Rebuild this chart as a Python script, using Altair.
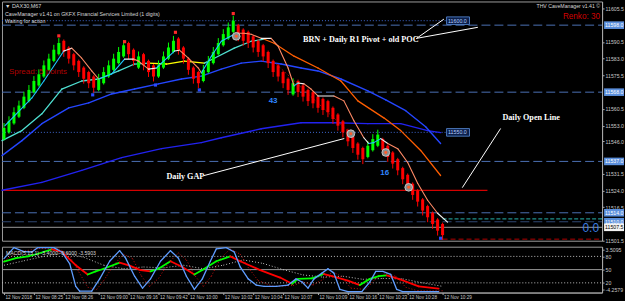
import json
import altair as alt
import numpy as np
import pandas as pd

W, H_MAIN, H_OSC = 602, 240, 46
X_DOM = [-0.4, 120.0]
Y_DOM = [11501.5, 11608.6]
O_DOM = [-2, 102]

# ---------------- data ----------------
bar_close = [11552, 11555, 11559, 11562, 11566, 11569, 11573, 11576, 11580, 11583, 11587, 11590,
             11586, 11583, 11580, 11577, 11574, 11572, 11570,
             11574, 11577, 11580, 11583, 11586, 11589,
             11585, 11582, 11584, 11580, 11577, 11575,
             11580, 11584, 11588, 11591,
             11587, 11583, 11578, 11574, 11572,
             11578, 11582, 11586, 11590, 11594, 11597, 11600,
             11593, 11591, 11590, 11588, 11586, 11584, 11581, 11577, 11575, 11572, 11569,
             11572,
             11568, 11566, 11564, 11563, 11561, 11560, 11559, 11556, 11553, 11550, 11546, 11543, 11540, 11538,
             11544, 11547, 11549,
             11542, 11539, 11536, 11533, 11529, 11526, 11522, 11519, 11515, 11512, 11509, 11506, 11504]

fast_x = [0.2, 5.6, 8, 12, 13.6, 15.6, 17.6, 19, 21.6, 24.2, 26, 27, 29, 30.6, 31.6, 34.2, 35.2, 37, 39,
          39.6, 41.6, 43.6, 46.2, 47, 48.2, 49.6, 51.6, 53.6, 55, 57, 58.2, 59, 60.2, 61.6, 63, 66.2,
          68.2, 70.2, 72.2, 73.2, 74.2, 75.6, 77, 79, 81, 83, 85, 87, 89]
fast_y = [11553.0, 11565.4, 11573.0, 11586.4, 11587.7, 11583.2, 11577.5, 11573.9, 11576.1, 11582.8,
          11582.8, 11581.9, 11578.3, 11578.8, 11581.0, 11586.4, 11586.8, 11583.2, 11578.8, 11576.6,
          11584.1, 11590.8, 11593.9, 11594.4, 11594.4, 11593.9, 11592.1, 11592.1, 11588.6, 11578.8,
          11570.8, 11572.1, 11571.7, 11569.4, 11566.3, 11566.3, 11564.1, 11555.2, 11547.6, 11545.0,
          11545.4, 11547.2, 11545.0, 11542.7, 11536.5, 11527.2, 11519.6, 11513.8, 11509.8]
fast_c = ['c', 'c', 'c', 'w', 's', 's', 's', 'c', 'c', 'w', 's', 's', 'w', 'c', 'c', 'w', 's', 's', 's',
          'c', 'c', 'c', 'w', 's', 's', 's', 'w', 's', 's', 's', 'c', 'w', 's', 's', 'w', 's', 's', 's',
          'w', 'c', 'c', 'w', 's', 's', 's', 's', 's', 'w']

mid_x = [-0.4, 3.6, 7.6, 11.6, 15.6, 19, 23, 26.2, 29, 32.6, 36.2, 40.2, 42.2, 46.2, 49.6, 52.2, 54.2,
         58.2, 63, 67.6, 71, 76.2, 79.6, 83.6, 87.6]
mid_y = [11546.3, 11550.8, 11558.3, 11569.4, 11573.0, 11573.9, 11577.5, 11580.6, 11581.0, 11580.6,
         11581.9, 11581.0, 11583.2, 11587.7, 11590.8, 11591.7, 11589.9, 11584.1, 11578.8, 11573.0,
         11564.1, 11556.5, 11550.8, 11541.9, 11530.7]
mid_c = ['t', 't', 't', 't', 't', 't', 't', 't', 'y', 'y', 'y', 't', 't', 't', 't',
         'o', 'o', 'o', 'o', 'o', 'o', 'o', 'o', 'o']

b1_x = [-0.4, 3.6, 7.6, 13, 17, 21.6, 26.2, 31, 35.6, 39.6, 43.6, 47.6, 51.6, 55.6, 59.6, 63, 67.6,
        73, 76.6, 80.6, 84.6, 87.6]
b1_y = [11539.6, 11546.3, 11553.9, 11561.0, 11563.2, 11567.2, 11569.4, 11571.7, 11573.9, 11575.2,
        11578.3, 11581.0, 11581.9, 11580.6, 11578.8, 11577.5, 11573.9, 11568.6, 11564.5, 11559.7,
        11552.5, 11545.0]

b2_x = [-0.4, 7.6, 15.6, 23.6, 31.6, 39.6, 43.6, 51.6, 59.6, 66.2, 73, 79.6, 85, 87.6]
b2_y = [11524.1, 11527.6, 11533.0, 11538.7, 11542.7, 11545.4, 11547.6, 11551.6, 11554.3, 11554.3,
        11553.9, 11553.9, 11550.8, 11549.9]

top_dot_x = [11, 24.2, 34.4, 46]
top_dot_y = [11593.2, 11590.6, 11594.8, 11603.2]
low_dot_x = [17.8, 30.4, 39.2, 87.6]
low_dot_y = [11566.8, 11571.2, 11569.0, 11502.6]

signal_x = [46.6, 69.6, 76.6, 81.2]
signal_y = [11593.0, 11549.4, 11541.0, 11525.4]

dash_levels = [11598.0, 11568.0, 11537.0, 11514.0]
dark_dash_level = 11510.0
dotted_levels = [11600.0, 11550.0]
dotted_labels = ["11600.0", "11550.0"]
daily_open = 11524.0
grey_level = 11507.5

price_ticks = [11605.5, 11590.5, 11583.0, 11575.5, 11560.5, 11553.0, 11546.0, 11531.5, 11524.0,
               11516.5, 11501.5]
hl_prices = [11598.0, 11568.0, 11537.0, 11514.0, 11510.0, 11507.5]
hl_labels = ["11598.0", "11568.0", "11537.0", "11514.0", "11510.0", "11507.5"]

osc_blue_x = [0, 2, 4, 5.6, 6.8, 10, 11.6, 13.2, 14.4, 15.2, 17.6, 19.2, 21.2, 23.2, 24.4, 26.2, 27.8,
              29.4, 31.4, 33.4, 35, 36.6, 38.2, 39.8, 41.4, 42.6, 44.6, 46.2, 47.4, 49, 50.6, 52.2,
              54.6, 57, 58.6, 59.8, 61, 62.2, 63.8, 65, 66.2, 67.4, 69, 71.8, 73.4, 74.6, 76, 77.6,
              78.8, 80, 87.2]
osc_blue_v = [75, 100, 91, 90, 100, 100, 90, 63, 12, 1, 1, 29, 69, 93, 76, 35, 8, 29, 69, 93, 76, 35,
              5, 29, 69, 97, 100, 90, 56, 29, 15, 12, 12, 15, 29, 22, 8, 29, 42, 52, 42, 5, 0, 0, 22,
              46, 46, 39, 5, 0, 0]
gr_x = [0, 2.4, 4.8, 6.8, 9.6, 11.6, 14.4, 16.8, 18.4, 20, 23.2, 25.2, 27.4, 29.4, 31, 33.4, 35.8,
        38.2, 39.8, 42.6, 45.4, 47.4, 51.4, 55.4, 57.8, 59, 61.8, 64.2, 65.8, 69, 71.4, 73.4, 75.2,
        76.8, 79.2, 83.2, 87.2]
gr_v = [68, 76, 80, 86, 96, 90, 60, 39, 46, 52, 66, 59, 49, 46, 52, 69, 56, 39, 49, 69, 80, 69, 49,
        32, 18, 29, 30, 40, 35, 25, 15, 29, 35, 37, 29, 12, 7]
sig_x = [0, 4, 8, 12, 16, 20, 24, 28, 32, 36, 40, 44, 48, 52, 56, 60, 64, 68, 72, 76, 80, 84, 88]
sig_v = [60, 70, 80, 88, 78, 60, 52, 56, 54, 60, 52, 60, 72, 64, 50, 38, 33, 35, 28, 30, 29, 20, 12]
dr_x = [0, 3, 7, 11, 13, 15, 16.8, 18.6, 20, 22, 24, 25.8, 27.6, 29.2, 31, 33, 35, 36.6, 38.4, 40,
        41.6, 43.4, 45.4, 47.4, 49, 51, 54, 58, 60, 62, 64, 66, 67.6, 69.6, 72.6, 74.6, 76.6, 78.6,
        80.6, 83, 88]
dr_v = [70, 90, 98, 97, 85, 45, 10, 5, 25, 60, 85, 75, 35, 12, 30, 65, 88, 72, 35, 12, 35, 75, 97,
        85, 55, 25, 12, 14, 22, 15, 28, 45, 35, 8, 5, 30, 42, 35, 10, 2, 2]

osc_levels = [80, 20]
osc_mid = 50
osc_ticks = [96, 80, 50, 20, 4]

time_ticks = [0, 6, 12, 19, 25, 31, 37, 44, 50, 56, 63, 69, 75, 81, 88]
time_labels = ["12 Nov 2018", "12 Nov 08:25", "12 Nov 08:26", "12 Nov 09:00", "12 Nov 09:16",
               "12 Nov 09:42", "12 Nov 10:00", "12 Nov 10:02", "12 Nov 10:04", "12 Nov 10:07",
               "12 Nov 10:09", "12 Nov 10:16", "12 Nov 10:23", "12 Nov 10:28", "12 Nov 10:29"]

# ---------------- styles ----------------
BODY = 5.0
GREEN, RED = "#00ff00", "#ff0000"
PAL = {'c': '#1ec8ff', 's': '#ff8a66', 'w': '#f2f2f2', 't': '#4fe0d2', 'y': '#ffff00', 'o': '#ff5e00'}
DASH_COL = "#4b70b4"
FONT = "Liberation Sans"
SERIF = "Liberation Serif"
AX_COL = "#a8a8a8"

xs = alt.Scale(domain=X_DOM, nice=False, zero=False)
ys = alt.Scale(domain=Y_DOM, nice=False, zero=False)
os_ = alt.Scale(domain=O_DOM, nice=False, zero=False)

yaxis = alt.Axis(orient='right', values=price_ticks, format='.1f', title=None, grid=False,
                 labelFontSize=5.2, labelColor='#c8c8c8', labelFont=FONT, tickSize=2,
                 labelPadding=1, tickColor=AX_COL, domainColor=AX_COL, labelBaseline='middle')


def X(f):
    return alt.X(f, type='quantitative', scale=xs, axis=None)


def Y(f):
    return alt.Y(f, type='quantitative', scale=ys, axis=yaxis)


def segs(xv, yv, codes=None, color=None, up_down=False):
    rows = []
    for k in range(len(xv) - 1):
        if up_down:
            col = GREEN if yv[k + 1] > yv[k] else RED
        elif codes is not None:
            col = PAL[codes[k]]
        else:
            col = color
        rows.append(dict(x=xv[k], y=yv[k], x2=xv[k + 1], y2=yv[k + 1], col=col))
    return pd.DataFrame(rows)


def seg_layer(df, width=1.0, dash=None, yfun=Y):
    kw = dict(strokeWidth=width, strokeCap='round')
    if dash:
        kw['strokeDash'] = dash
        kw['strokeCap'] = 'butt'
    return alt.Chart(df).mark_rule(**kw).encode(
        x=X('x'), x2=alt.X2('x2'), y=yfun('y'), y2=alt.Y2('y2'),
        color=alt.Color('col:N', scale=None))


def px_text(txt, x, y, size=5.3, color='#d8d8d8', align='left', font=FONT, weight='normal'):
    return alt.Chart(pd.DataFrame({'t': [txt]})).mark_text(
        align=align, baseline='middle', fontSize=size, color=color, font=font, fontWeight=weight
    ).encode(x=alt.value(x), y=alt.value(y), text='t:N')


# ---------------- main panel ----------------
layers = []

layers.append(alt.Chart(pd.DataFrame({'y': dash_levels})).mark_rule(
    color=DASH_COL, strokeDash=[9, 4], strokeWidth=1).encode(x=alt.value(0), x2=alt.value(W), y=Y('y')))
layers.append(alt.Chart(pd.DataFrame({'y': [dark_dash_level]})).mark_rule(
    color="#2e4670", strokeDash=[9, 4], strokeWidth=1.2).encode(x=alt.value(0), x2=alt.value(W), y=Y('y')))
layers.append(alt.Chart(pd.DataFrame({'y': [grey_level]})).mark_rule(
    color="#9a9a9a", strokeWidth=1).encode(x=alt.value(0), x2=alt.value(W), y=Y('y')))
layers.append(alt.Chart(pd.DataFrame({'y': dotted_levels, 'x0': [-0.4, -0.4], 'x1': [88.8, 88.8]})).mark_rule(
    color="#3f68d0", strokeDash=[1, 2], strokeWidth=1).encode(x=X('x0'), x2=alt.X2('x1'), y=Y('y')))
layers.append(alt.Chart(pd.DataFrame({'y': [daily_open], 'x0': [-0.4], 'x1': [97.0]})).mark_rule(
    color="#d40000", strokeWidth=1.2).encode(x=X('x0'), x2=alt.X2('x1'), y=Y('y')))
layers.append(alt.Chart(pd.DataFrame({'y': [11511.3], 'x0': [88.0], 'x1': [X_DOM[1]]})).mark_rule(
    color="#1f8f8a", strokeDash=[4, 2], strokeWidth=1.2).encode(x=X('x0'), x2=alt.X2('x1'), y=Y('y')))
layers.append(alt.Chart(pd.DataFrame({'y': [11502.2], 'x0': [88.0], 'x1': [X_DOM[1]]})).mark_rule(
    color="#b00000", strokeDash=[5, 3], strokeWidth=1).encode(x=X('x0'), x2=alt.X2('x1'), y=Y('y')))

# moving averages
layers.append(seg_layer(segs(b2_x, b2_y, color="#2222f0"), width=1.4))
layers.append(seg_layer(segs(b1_x, b1_y, color="#2446ff"), width=1.4))
layers.append(seg_layer(segs(mid_x, mid_y, codes=mid_c), width=1.3))
# dotted trend
layers.append(seg_layer(pd.DataFrame([dict(x=54, y=11581.9, x2=70, y2=11548.5, col="#a00000")]),
                        width=1, dash=[2, 2]))

# candles
bars = pd.DataFrame({'i': np.arange(len(bar_close)), 'close': np.array(bar_close, dtype=float)})
prev = bars['close'].shift(1)
up = ((bars['close'] > prev) | prev.isna()).to_numpy()
bars['b0'] = np.where(up, bars['close'] - BODY, bars['close'])
bars['b1'] = np.where(up, bars['close'], bars['close'] + BODY)
bars['w0'] = np.where(up, bars['b0'] - 0.6, bars['b0'] - 2.2)
bars['w1'] = np.where(up, bars['b1'] + 2.2, bars['b1'] + 0.6)
bars['col'] = np.where(up, GREEN, RED)
layers.append(alt.Chart(bars).mark_rule(strokeWidth=1).encode(
    x=X('i'), y=Y('w0'), y2=alt.Y2('w1'), color=alt.Color('col:N', scale=None)))
layers.append(alt.Chart(bars).mark_rule(strokeWidth=3).encode(
    x=X('i'), y=Y('b0'), y2=alt.Y2('b1'), color=alt.Color('col:N', scale=None)))

# fast line on top
layers.append(seg_layer(segs(fast_x, fast_y, codes=fast_c), width=1.1))

# dots
layers.append(alt.Chart(pd.DataFrame({'x': top_dot_x, 'y': top_dot_y})).mark_square(
    size=10, color="#ff2a2a", opacity=1).encode(x=X('x'), y=Y('y')))
layers.append(alt.Chart(pd.DataFrame({'x': low_dot_x, 'y': low_dot_y})).mark_square(
    size=10, color="#2a4aff", opacity=1).encode(x=X('x'), y=Y('y')))
layers.append(alt.Chart(pd.DataFrame({'x': signal_x, 'y': signal_y})).mark_point(
    shape='circle', filled=True, size=60, fill="#8c8c8c", stroke="#d8d8d8", strokeWidth=0.8,
    opacity=1).encode(x=X('x'), y=Y('y')))
layers.append(alt.Chart(pd.DataFrame({'x': signal_x, 'y': signal_y})).mark_point(
    shape='circle', filled=True, size=9, color="#ff5a2a", opacity=1).encode(x=X('x'), y=Y('y')))

# leader lines
leaders = pd.DataFrame([
    dict(x=82.8, y=11592.1, x2=88.2, y2=11600.6, col='white'),
    dict(x=82.8, y=11592.1, x2=95.0, y2=11597.0, col='white'),
    dict(x=92.0, y=11525.4, x2=99.6, y2=11551.6, col='white'),
    dict(x=40.2, y=11530.7, x2=68.2, y2=11547.2, col='white'),
])
layers.append(seg_layer(leaders, width=1))

# annotations in data space
ann = pd.DataFrame({
    't': ["BRN + Daily R1 Pivot + old POC", "Daily Open Line", "Daily GAP"],
    'x': [60.0, 100.0, 32.6],
    'y': [11591.2, 11556.5, 11529.8]})
layers.append(alt.Chart(ann).mark_text(align='left', baseline='middle', font=SERIF, fontSize=8.2,
                                       fontWeight='bold', color='white').encode(
    x=X('x'), y=Y('y'), text='t:N'))
nums = pd.DataFrame({'t': ["43", "16"], 'x': [54.0, 76.4], 'y': [11564.1, 11531.6]})
layers.append(alt.Chart(nums).mark_text(align='center', baseline='middle', font=FONT, fontSize=8,
                                        fontWeight='bold', color='#2f86ff').encode(
    x=X('x'), y=Y('y'), text='t:N'))
spread = pd.DataFrame({'t': ["Spread: 5 points"], 'x': [1.0], 'y': [11577.0]})
layers.append(alt.Chart(spread).mark_text(align='left', baseline='middle', font=FONT, fontSize=8,
                                          color='#b00000').encode(x=X('x'), y=Y('y'), text='t:N'))

# dotted level label boxes
dlab = pd.DataFrame({'x0': [88.8, 88.8], 'x1': [93.4, 93.4], 'y': dotted_levels, 't': dotted_labels})
dlab['lo'] = dlab['y'] - 1.7
dlab['hi'] = dlab['y'] + 1.7
layers.append(alt.Chart(dlab).mark_rect(fill="#0b1f4a", stroke="#5b8fdc", strokeWidth=0.8).encode(
    x=X('x0'), x2=alt.X2('x1'), y=Y('lo'), y2=alt.Y2('hi')))
layers.append(alt.Chart(dlab).mark_text(align='left', baseline='middle', font=FONT, fontSize=5.3,
                                        color='#b8d0ff', dx=1.5).encode(x=X('x0'), y=Y('y'), text='t:N'))

# axis highlight boxes
hl = pd.DataFrame({'p': hl_prices, 'lab': hl_labels,
                   'fill': ["#5b8fdc"] * 5 + ["#f4f4f4"],
                   'tc': ["#ffffff"] * 5 + ["#000000"]})
hl['lo'] = hl['p'] - 1.7
hl['hi'] = hl['p'] + 1.7
layers.append(alt.Chart(hl).mark_rect().encode(
    x=alt.value(W + 2), x2=alt.value(W + 22), y=Y('lo'), y2=alt.Y2('hi'),
    color=alt.Color('fill:N', scale=None)))
layers.append(alt.Chart(hl).mark_text(align='left', baseline='middle', font=FONT, fontSize=5.2).encode(
    x=alt.value(W + 3), y=Y('p'), text='lab:N', color=alt.Color('tc:N', scale=None)))

# header texts
layers.append(px_text("\u25bc DAX30,M67", 3, 5, size=5.5))
layers.append(px_text("CaveManager v1.41 on GKFX Financial Services Limited (1 digits)", 3, 12.5, size=5.3))
layers.append(px_text("Waiting for action", 3, 19.5, size=5.3))
layers.append(px_text("THV CaveManager v1.41 \u00a9", 600, 5, size=5.2, align='right'))
layers.append(px_text("Renko: 30", 600, 16, size=8.2, align='right', color='#d20000'))
layers.append(px_text("0.0", 599, 227, size=12, align='right', color='#3a7de0'))

main = alt.layer(*layers).properties(width=W, height=H_MAIN)

# ---------------- oscillator panel ----------------
label_expr = "{}[indexof({}, datum.value)]".format(json.dumps(time_labels), json.dumps(time_ticks))
xaxis_t = alt.Axis(orient='bottom', values=time_ticks, labelExpr=label_expr, labelAlign='left',
                   labelBaseline='top', labelFlush=False, labelOverlap=False, tickSize=2,
                   labelPadding=0, labelFontSize=4.7, labelColor='#c8c8c8', labelFont=FONT,
                   tickColor=AX_COL, domainColor=AX_COL, title=None, grid=False, labelOffset=1)
oaxis = alt.Axis(orient='right', values=osc_ticks, title=None, grid=False,
                 labelExpr="datum.value == 96 ? '3.5095' : datum.value == 4 ? '-4.2579' : datum.label",
                 labelFontSize=5.2, labelColor='#c8c8c8', labelFont=FONT, tickSize=2, labelPadding=1,
                 tickColor=AX_COL, domainColor=AX_COL, labelBaseline='middle')


def XO(f):
    return alt.X(f, type='quantitative', scale=xs, axis=xaxis_t)


def YO(f):
    return alt.Y(f, type='quantitative', scale=os_, axis=oaxis)


def oseg(df, width=1.0, dash=None):
    kw = dict(strokeWidth=width, strokeCap='round')
    if dash:
        kw['strokeDash'] = dash
        kw['strokeCap'] = 'butt'
    return alt.Chart(df).mark_rule(**kw).encode(
        x=XO('x'), x2=alt.X2('x2'), y=YO('y'), y2=alt.Y2('y2'),
        color=alt.Color('col:N', scale=None))


olayers = []
olayers.append(alt.Chart(pd.DataFrame({'v': osc_levels})).mark_rule(
    color='#bdbdbd', strokeDash=[1, 2], strokeWidth=1).encode(x=alt.value(0), x2=alt.value(W), y=YO('v')))
olayers.append(alt.Chart(pd.DataFrame({'v': [osc_mid]})).mark_rule(
    color='#9a9a9a', strokeWidth=1).encode(x=alt.value(0), x2=alt.value(W), y=YO('v')))
olayers.append(oseg(segs(sig_x, sig_v, color='#bcbcbc'), width=1, dash=[1, 2]))
olayers.append(oseg(segs(dr_x, dr_v, color='#c01010'), width=1, dash=[1, 2]))
olayers.append(oseg(segs(gr_x, gr_v, up_down=True), width=1.8))
olayers.append(oseg(segs(osc_blue_x, osc_blue_v, color='#5f9dff'), width=1.3))
olayers.append(px_text("MACD(5,13,1)  -3.4000 -3.6000 -3.5903", 4, 6, size=5.2))

osc = alt.layer(*olayers).properties(width=W, height=H_OSC)

chart = alt.vconcat(main, osc, spacing=1, padding=0, background='black').configure_view(
    fill='black', stroke='#9a9a9a', strokeWidth=1)

chart.save("out.html", embed_options={"renderer": "svg", "actions": False})
